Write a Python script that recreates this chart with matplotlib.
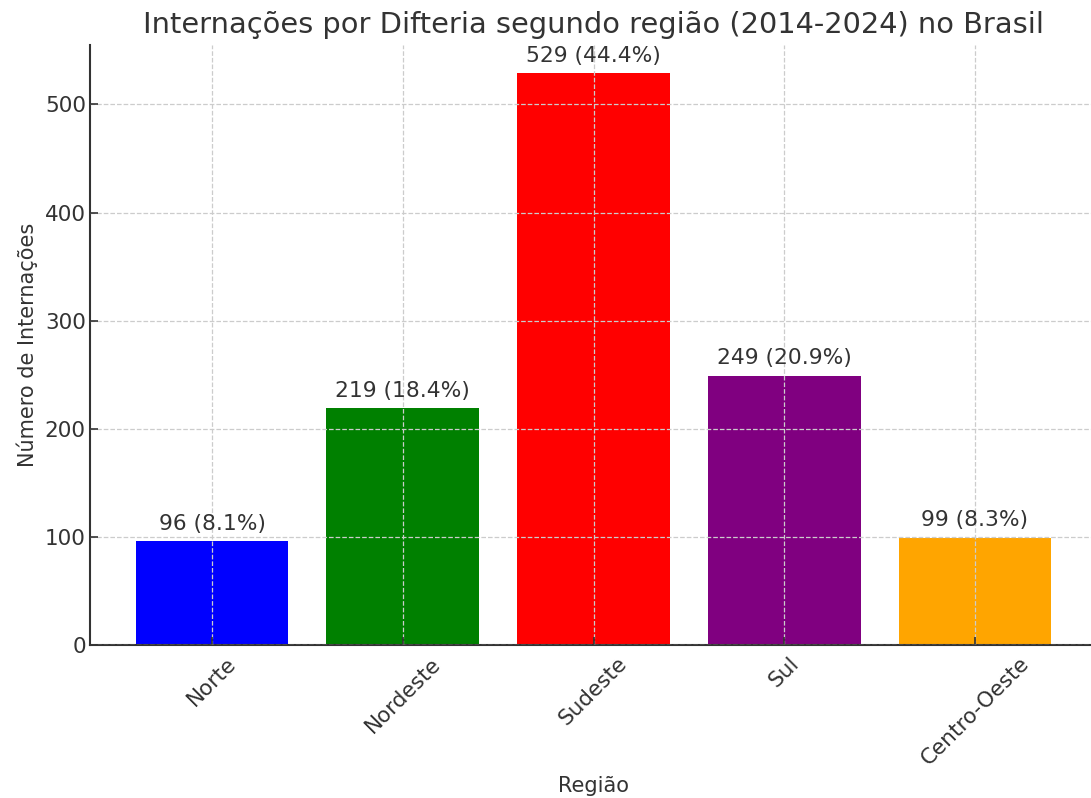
import matplotlib
matplotlib.use("Agg")
import matplotlib.pyplot as plt

regioes = ["Norte", "Nordeste", "Sudeste", "Sul", "Centro-Oeste"]
internacoes = [96, 219, 529, 249, 99]
percentuais = [8.1, 18.4, 44.4, 20.9, 8.3]
cores = ["blue", "green", "red", "purple", "orange"]

txt = "#333333"
plt.rcParams["text.color"] = txt
plt.rcParams["axes.labelcolor"] = txt
plt.rcParams["xtick.color"] = txt
plt.rcParams["ytick.color"] = txt

fig = plt.figure(figsize=(10.91, 7.98), dpi=100)
ax = fig.add_axes([90/1091, (798-645)/798, (1097-90)/1091, 600/798])
x = list(range(len(regioes)))
bars = ax.bar(x, internacoes, color=cores, width=0.8, zorder=2)
for xi, v, p in zip(x, internacoes, percentuais):
    ax.text(xi, v + 7, f"{v} ({p}%)", ha="center", va="bottom", fontsize=15.7, color=txt, zorder=3)

ax.set_xticks(x)
ax.set_xticklabels(regioes, rotation=45, fontsize=15.5)
ax.tick_params(axis="y", labelsize=15.5, pad=3)
ax.tick_params(axis="x", pad=6)
ax.tick_params(direction="in", length=6, width=1.2)
ax.set_xlim(-0.64, 4.64)
ax.set_ylim(0, 555)
ax.set_yticks([0, 100, 200, 300, 400, 500])
ax.grid(True, linestyle="--", color="#cccccc", linewidth=0.9, zorder=0)
ax.set_axisbelow(False)
for s in ["top", "right"]:
    ax.spines[s].set_visible(False)
for s in ["left", "bottom"]:
    ax.spines[s].set_color(txt)
    ax.spines[s].set_linewidth(1.5)
ax.set_xlabel("Região", fontsize=15, labelpad=5)
ax.set_ylabel("Número de Internações", fontsize=15, labelpad=5)
ax.set_title("Internações por Difteria segundo região (2014-2024) no Brasil", fontsize=20.8, color=txt, pad=9)
fig.savefig("out.png", dpi=100)
